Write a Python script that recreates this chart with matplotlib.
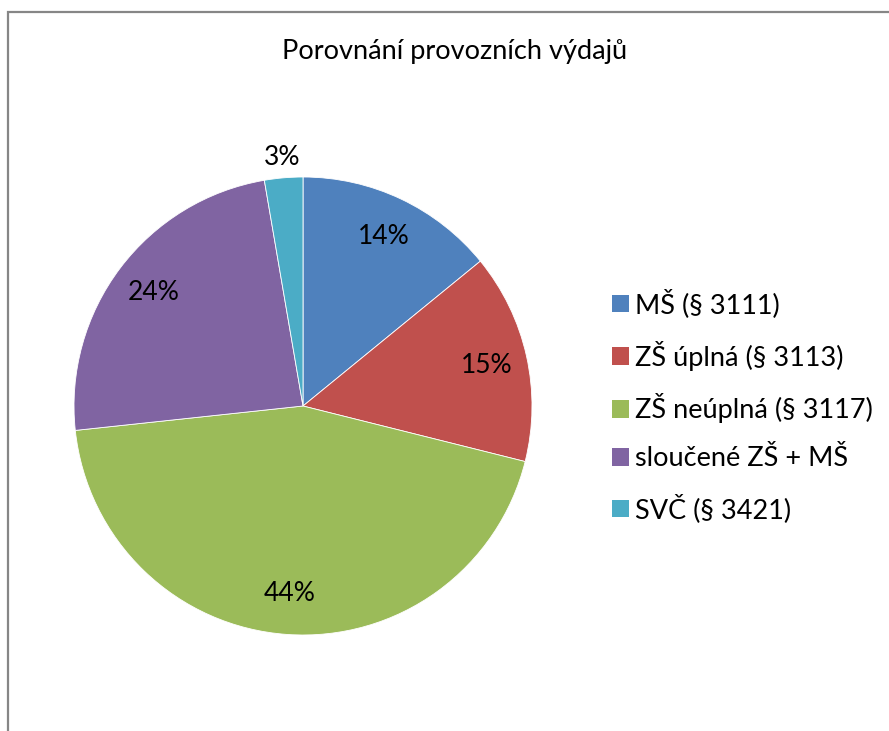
import matplotlib
matplotlib.use("Agg")
import matplotlib.pyplot as plt
from matplotlib.patches import Rectangle, Patch
import numpy as np

plt.rcParams['font.family'] = ['Lato', 'DejaVu Sans']

categories = ["MŠ (§ 3111)", "ZŠ úplná (§ 3113)", "ZŠ neúplná (§ 3117)",
              "sloučené ZŠ + MŠ", "SVČ (§ 3421)"]
values = [14.1, 14.8, 44.4, 24.0, 2.7]
colors = ["#4F81BD", "#C0504D", "#9BBB59", "#8064A2", "#4BACC6"]
title = "Porovnání provozních výdajů"

W, H = 889, 731
fig = plt.figure(figsize=(W / 100, H / 100), dpi=100)

# chart frame (cut off at right and bottom)
frame = Rectangle((8 / W, -0.1), 1.2, 1 - 12.5 / H + 0.1, transform=fig.transFigure,
                  fill=False, edgecolor="#868686", linewidth=1.6, clip_on=False)
fig.patches.append(frame)

cx, cy, r = 303, 406, 229
ax = fig.add_axes([(cx - r) / W, (H - cy - r) / H, 2 * r / W, 2 * r / H])
wedges, texts, autotexts = ax.pie(values, colors=colors, startangle=90, counterclock=False,
                                  autopct='%.0f%%', pctdistance=0.82,
                                  wedgeprops=dict(edgecolor='white', linewidth=0.6),
                                  textprops=dict(fontsize=19, color='black'))
# small slice label outside the pie
w = wedges[-1]
ang = np.deg2rad((w.theta1 + w.theta2) / 2)
autotexts[-1].set_position((1.09 * np.cos(ang), 1.09 * np.sin(ang)))
ax.set_xlim(-1, 1)
ax.set_ylim(-1, 1)
ax.set_aspect('equal')
ax.axis('off')

fig.text(455 / W, 1 - 52 / H, title, ha='center', va='center', fontsize=19.5)

handles = [Patch(facecolor=c, edgecolor='none') for c in colors]
fig.legend(handles, categories, loc='upper left', bbox_to_anchor=(612 / W, 1 - 289 / H),
           frameon=False, fontsize=19.5, handlelength=0.63, handleheight=0.63,
           handletextpad=0.22, labelspacing=0.84, borderpad=0, borderaxespad=0)

fig.savefig("out.png", dpi=100)
